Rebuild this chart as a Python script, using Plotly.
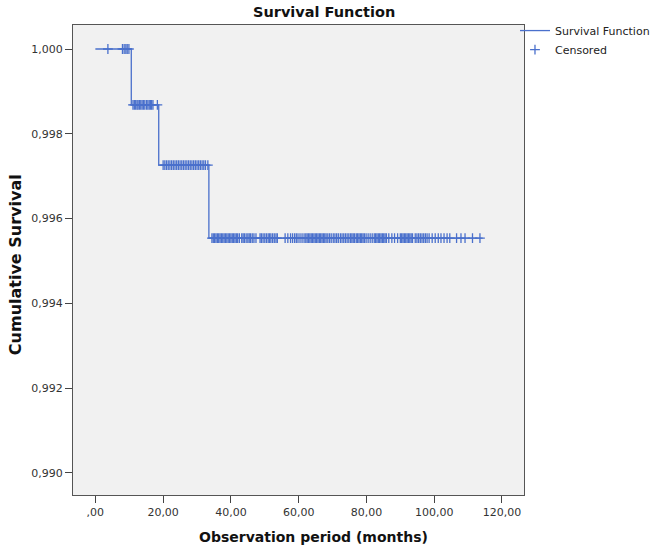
import plotly.graph_objects as go

# Survival step function (months, cumulative survival)
step_times = [0.0, 10.6, 18.7, 33.5, 114.3]
step_surv = [1.0, 0.99868, 0.99726, 0.99554, 0.99554]

# Censored observations per level
cens1_t = [3.7, 8.0, 8.5, 9.0, 9.4, 9.9]
cens2_t = [11.1, 11.5, 11.9, 12.3, 12.6, 13.0, 13.4, 13.8, 14.2, 14.6,
           15.1, 15.5, 15.9, 16.3, 16.6, 17.0, 18.3]
cens3_t = [20.0, 20.5, 21.0, 21.5, 22.0, 22.5, 23.0, 23.5, 24.0, 24.5,
           25.0, 25.5, 26.0, 26.5, 27.0, 27.5, 28.0, 28.5, 29.0, 29.5,
           30.0, 30.5, 31.0, 31.5, 32.0, 32.5, 33.2]
cens4_t = [34.4, 34.8, 35.2, 35.6, 36.0, 36.4, 36.8, 37.2, 37.6, 38.0, 38.4, 38.8,
           39.2, 39.6, 40.0, 40.4, 40.8, 41.2, 41.6, 42.0, 42.5,
           43.2, 43.6, 44.0, 44.5, 45.0, 45.4, 45.8, 46.3, 46.8, 47.4,
           48.6, 49.0, 49.5, 50.0, 50.5, 51.0, 51.4, 51.8, 52.3, 52.8, 53.3, 53.7,
           56.0, 56.8, 57.6,
           58.2, 58.8, 59.3, 59.8, 60.4, 61.0, 61.6, 62.1,
           62.5, 62.9, 63.3, 63.7, 64.1, 64.5, 64.9, 65.3, 65.7, 66.1, 66.5, 66.9,
           67.3, 67.7, 68.1,
           68.6, 69.1, 69.6, 70.2, 70.7, 71.2, 71.7, 72.3, 72.8,
           73.3, 73.8, 74.3, 74.8, 75.3, 75.7, 76.1, 76.5, 77.0,
           77.4, 77.8, 78.2, 78.6, 79.0, 79.4,
           79.9, 80.5, 81.1, 81.7, 82.3,
           82.7, 83.1, 83.5, 83.9, 84.3, 84.7, 85.1, 85.5, 85.9,
           86.6, 87.5, 88.3, 89.2,
           90.0, 90.4, 90.8, 91.2, 91.6, 92.0, 92.4, 92.8, 93.2, 93.6,
           94.4, 94.9, 95.4, 95.9, 96.4, 96.9, 97.4, 97.9, 98.5,
           99.4, 100.3, 101.2, 102.0, 102.9, 103.8, 104.6,
           106.6, 107.9, 109.1, 111.3, 113.5]
level_surv = [1.0, 0.99868, 0.99726, 0.99554]

x_tickvals = [0, 20, 40, 60, 80, 100, 120]
x_ticktext = [",00", "20,00", "40,00", "60,00", "80,00", "100,00", "120,00"]
y_tickvals = [0.990, 0.992, 0.994, 0.996, 0.998, 1.000]
y_ticktext = ["0,990", "0,992", "0,994", "0,996", "0,998", "1,000"]

BLUE = "#4a70cc"
FONT = "DejaVu Sans"

cens_x = []
cens_y = []
for ts, s in zip([cens1_t, cens2_t, cens3_t, cens4_t], level_surv):
    cens_x += ts
    cens_y += [s] * len(ts)

fig = go.Figure()
fig.add_trace(go.Scatter(
    x=step_times, y=step_surv, mode="lines", line_shape="hv",
    line=dict(color=BLUE, width=1.3), name="Survival Function"))
fig.add_trace(go.Scatter(
    x=cens_x, y=cens_y, mode="markers", name="Censored",
    marker=dict(symbol="cross-thin", size=7, line=dict(color=BLUE, width=1.3),
                color=BLUE)))

fig.update_layout(
    width=657, height=549,
    margin=dict(l=73, r=133, t=25, b=54, autoexpand=False),
    paper_bgcolor="white", plot_bgcolor="#f1f1f1",
    font=dict(family=FONT, size=11, color="#333"),
    showlegend=True,
    legend=dict(x=0.98, y=1.019, xanchor="left", yanchor="top",
                font=dict(family=FONT, size=11, color="#222"),
                bgcolor="rgba(0,0,0,0)", itemwidth=30, tracegroupgap=0,
                borderwidth=0),
    xaxis=dict(range=[-6.6, 126.5], tickvals=x_tickvals, ticktext=x_ticktext,
               showgrid=False, zeroline=False, showline=True, mirror=True,
               linecolor="#555", linewidth=1, ticks="outside", ticklen=7,
               tickcolor="#444", tickfont=dict(size=11, color="#333"),
               automargin=False),
    yaxis=dict(range=[0.98948, 1.000566], tickvals=y_tickvals, ticktext=y_ticktext,
               showgrid=False, zeroline=False, showline=True, mirror=True,
               linecolor="#555", linewidth=1, ticks="outside", ticklen=7,
               tickcolor="#444", tickfont=dict(size=11, color="#333"),
               automargin=False),
    annotations=[
        dict(text="<b>Survival Function</b>", xref="paper", yref="paper",
             x=0.5565, y=1.0277, xanchor="center", yanchor="middle",
             showarrow=False, font=dict(family=FONT, size=14.5, color="#111")),
        dict(text="<b>Observation period (months)</b>", xref="paper", yref="paper",
             x=0.534, y=-0.0894, xanchor="center", yanchor="middle",
             showarrow=False, font=dict(family=FONT, size=14, color="#111")),
        dict(text="<b>Cumulative Survival</b>", xref="paper", yref="paper",
             x=-0.1286, y=0.489, xanchor="center", yanchor="middle", textangle=-90,
             showarrow=False, font=dict(family=FONT, size=16, color="#111")),
    ],
)

fig.write_html("out.html", config={"displayModeBar": False},
               post_script="document.body.style.margin='0';")
